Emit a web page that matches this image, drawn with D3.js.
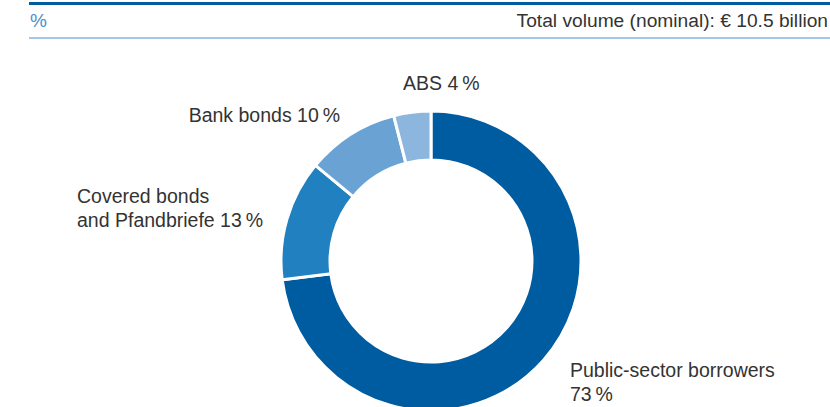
<!DOCTYPE html>
<html>
<head>
<meta charset="utf-8">
<script src="https://cdn.jsdelivr.net/npm/d3@7"></script>
<style>
  body { margin: 0; background: #fff; }
  text { font-family: "Liberation Sans", Arial, sans-serif; fill: #333; }
</style>
</head>
<body>
<div id="chart"></div>
<script>
// data
const categories = ["Public-sector borrowers", "Covered bonds and Pfandbriefe", "Bank bonds", "ABS"];
const shares = [73, 13, 10, 4];
const colours = ["#005ca1", "#2180bf", "#6aa3d3", "#8db6de"];

const width = 830, height = 407;
const cx = 431, cy = 261;
const outer = 150, inner = 101;

const svg = d3.select("#chart")
  .append("svg")
    .attr("width", width)
    .attr("height", height);

// header rules and texts
svg.append("rect").attr("x", 29).attr("y", 2).attr("width", width - 29).attr("height", 3).attr("fill", "#005ca1");
svg.append("rect").attr("x", 29).attr("y", 37).attr("width", width - 29).attr("height", 2).attr("fill", "#a6c6e5");
svg.append("text").attr("x", 30).attr("y", 27).style("font-size", "19px").style("fill", "#4b8fd0").text("%");
svg.append("text").attr("x", 828).attr("y", 27).attr("text-anchor", "end").style("font-size", "19.2px")
  .text("Total volume (nominal): \u20AC 10.5 billion");

const pie = d3.pie().sort(null).value(d => d);
const arc = d3.arc().innerRadius(inner).outerRadius(outer);

const g = svg.append("g").attr("transform", `translate(${cx},${cy})`);

g.selectAll("path")
  .data(pie(shares))
  .join("path")
    .attr("d", arc)
    .attr("fill", (d, i) => colours[i])
    .attr("stroke", "white")
    .style("stroke-width", "3px");

// labels: lines per slice, anchored next to the ring
const labelLines = [
  ["Public-sector borrowers", shares[0] + "\u2009%"],
  ["Covered bonds", "and Pfandbriefe " + shares[1] + "\u2009%"],
  ["Bank bonds " + shares[2] + "\u2009%"],
  ["ABS " + shares[3] + "\u2009%"]
];
const labelPos = [
  {x: 570, y: 377, anchor: "start"},
  {x: 77, y: 203, anchor: "start"},
  {x: 340, y: 122, anchor: "end"},
  {x: 403, y: 90, anchor: "start"}
];

labelLines.forEach(function(lines, i) {
  const t = svg.append("text")
    .attr("x", labelPos[i].x)
    .attr("y", labelPos[i].y)
    .attr("text-anchor", labelPos[i].anchor)
    .style("font-size", "19.5px");
  lines.forEach(function(l, j) {
    t.append("tspan").attr("x", labelPos[i].x).attr("dy", j ? 24 : 0).text(l);
  });
});
</script>
</body>
</html>
